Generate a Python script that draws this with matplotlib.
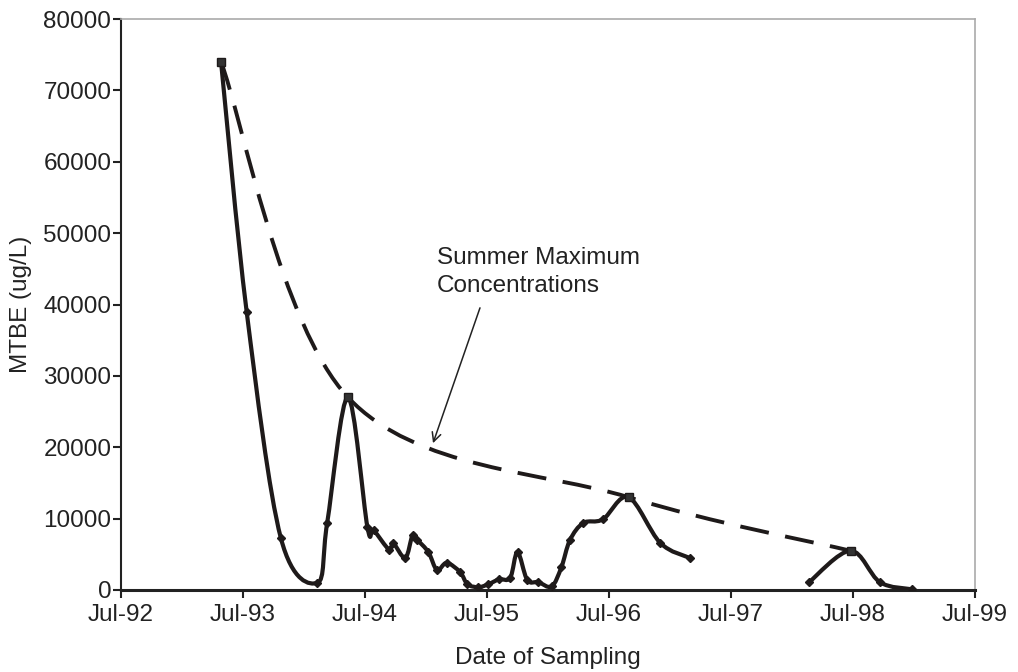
import matplotlib
matplotlib.use("Agg")
import matplotlib.pyplot as plt
from matplotlib.path import Path
from matplotlib.patches import PathPatch
import numpy as np

plt.rcParams['font.family'] = ['Liberation Sans', 'DejaVu Sans']
plt.rcParams['lines.scale_dashes'] = False

# Sampling dates as decimal years, MTBE concentrations (ug/L)
dates_a = [1993.32, 1993.53, 1993.81, 1994.11, 1994.19, 1994.36, 1994.52, 1994.57,
           1994.70, 1994.73, 1994.83, 1994.89, 1994.93, 1995.02, 1995.09, 1995.17,
           1995.28, 1995.34, 1995.43, 1995.51, 1995.60, 1995.69, 1995.75, 1995.83,
           1995.92, 1996.03, 1996.11, 1996.18, 1996.29, 1996.45, 1996.66, 1996.92,
           1997.16]
mtbe_a = [74000, 39000, 7300, 1000, 9400, 27000, 8800, 8400,
          5600, 6600, 4500, 7700, 7000, 5300, 2800, 3800,
          2500, 800, 400, 800, 1500, 1700, 5300, 1400,
          1100, 500, 3200, 7000, 9400, 9900, 13000, 6600,
          4500]
dates_b = [1998.14, 1998.48, 1998.72, 1998.98]
mtbe_b = [1100, 5500, 1100, 100]

max_dates = [1993.32, 1994.36, 1996.66, 1998.48]
max_mtbe = [74000, 27000, 13000, 5500]

tick_years = [1992.5, 1993.5, 1994.5, 1995.5, 1996.5, 1997.5, 1998.5, 1999.5]
tick_labels = ['Jul-92', 'Jul-93', 'Jul-94', 'Jul-95', 'Jul-96', 'Jul-97', 'Jul-98', 'Jul-99']
y_ticks = [0, 10000, 20000, 30000, 40000, 50000, 60000, 70000, 80000]


def smooth_path(xs, ys):
    """Excel-style smoothed line: cubic Bezier segments through the points."""
    pts = np.column_stack([xs, ys]).astype(float)
    n = len(pts)
    verts = [pts[0]]
    codes = [Path.MOVETO]
    for i in range(n - 1):
        p_prev = pts[i - 1] if i > 0 else pts[i]
        p0 = pts[i]
        p1 = pts[i + 1]
        p_next = pts[i + 2] if i + 2 < n else pts[i + 1]
        c1 = p0 + (p1 - p_prev) / 6.0
        c2 = p1 - (p_next - p0) / 6.0
        verts += [c1, c2, p1]
        codes += [Path.CURVE4] * 3
    return Path(verts, codes)


W, H = 1018, 672
fig = plt.figure(figsize=(W / 100, H / 100), dpi=100)
ax = fig.add_axes([121 / W, 1 - 590 / H, (975 - 121) / W, (590 - 19) / H])

ax.set_xlim(1992.5, 1999.5)
ax.set_ylim(0, 80000)

col = '#1e1a1a'
FS = 17.5
for xs, ys in [(dates_a, mtbe_a), (dates_b, mtbe_b)]:
    ax.add_patch(PathPatch(smooth_path(xs, ys), fill=False, edgecolor=col,
                           lw=3.0, capstyle='round', joinstyle='round', zorder=3))
    ax.plot(xs, ys, linestyle='none', marker='D', ms=4.5, color=col, zorder=4)

ax.add_patch(PathPatch(smooth_path(max_dates, max_mtbe), fill=False, edgecolor=col,
                       lw=2.8, linestyle=(0, (21, 12)), capstyle='butt', zorder=3))
ax.plot(max_dates, max_mtbe, linestyle='none', marker='s', ms=5.5,
        markerfacecolor='#333333', markeredgecolor=col, mew=1.0, zorder=5)

ax.text(1995.09, 48000, 'Summer Maximum\nConcentrations', ha='left', va='top',
        fontsize=FS, color='#222222', linespacing=1.3)
ax.annotate('', xy=(1995.05, 20200), xytext=(1995.45, 39900),
            arrowprops=dict(arrowstyle='->', color='#222222', lw=1.1,
                            mutation_scale=16))

ax.set_xticks(tick_years)
ax.set_xticklabels(tick_labels)
ax.set_yticks(y_ticks)
ax.set_yticklabels([str(v) for v in y_ticks])
ax.tick_params(axis='both', labelsize=FS, colors='#222222', length=6, width=1.5,
               direction='out')
ax.tick_params(axis='x', pad=4)
ax.tick_params(axis='y', pad=1)

ax.spines['left'].set_linewidth(1.5)
ax.spines['left'].set_color('#222222')
ax.spines['bottom'].set_linewidth(2.2)
ax.spines['bottom'].set_color('#222222')
ax.spines['top'].set_color('#aaaaaa')
ax.spines['right'].set_color('#aaaaaa')
ax.spines['top'].set_linewidth(1.2)
ax.spines['right'].set_linewidth(1.2)

ax.set_xlabel('Date of Sampling', fontsize=FS, color='#222222', labelpad=15)
ax.set_ylabel('MTBE (ug/L)', fontsize=FS, color='#222222')
ax.yaxis.set_label_coords(-0.104, 0.5)

fig.savefig('out.png', dpi=100, facecolor='white')
